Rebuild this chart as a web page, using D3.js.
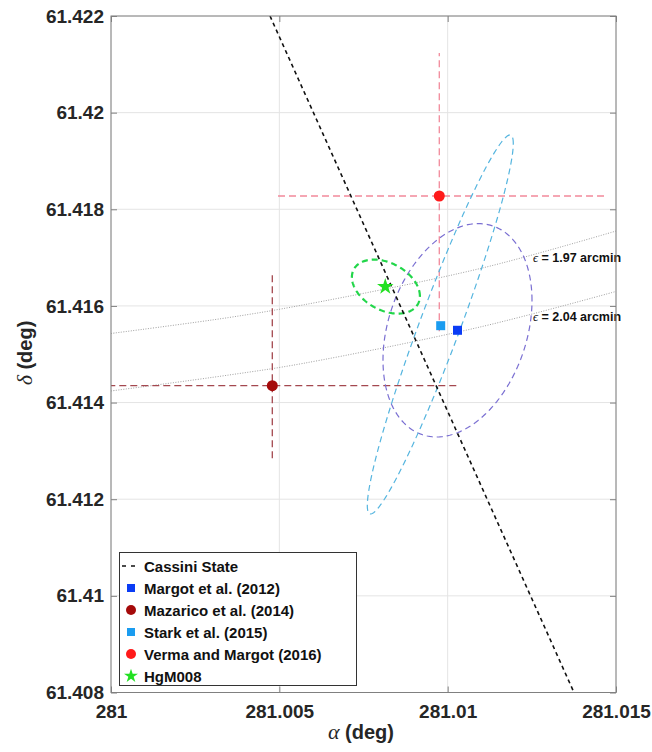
<!DOCTYPE html>
<html>
<head>
<meta charset="utf-8">
<script src="https://cdn.jsdelivr.net/npm/d3@7"></script>
<style>
  html, body { margin: 0; padding: 0; background: #fff; }
  svg { display: block; }
  .tick text { font-family: "Liberation Sans", Arial, Helvetica, sans-serif; font-weight: bold; font-size: 19px; fill: #262626; }
</style>
</head>
<body>
<div id="chart"></div>
<script>
// ---------------- DATA ----------------
const xTicks = [281, 281.005, 281.01, 281.015];
const xTickLabels = ["281", "281.005", "281.01", "281.015"];
const yTicks = [61.408, 61.41, 61.412, 61.414, 61.416, 61.418, 61.42, 61.422];
const yTickLabels = ["61.408", "61.41", "61.412", "61.414", "61.416", "61.418", "61.42", "61.422"];

// Cassini state line (two end points, ra / dec)
const cassiniRA = [281.004723, 281.013752];
const cassiniDec = [61.422, 61.408];

// constant obliquity curves
const epsRA = [281.000, 281.0035, 281.0057, 281.011, 281.015];
const eps197Dec = [61.41543, 61.41576, 61.41602, 61.41678, 61.41755];
const eps204Dec = [61.41424, 61.41457, 61.41481, 61.41557, 61.41630];
const epsLabels = ["1.97", "2.04"];

// solutions
const seriesNames = ["Margot et al. (2012)", "Mazarico et al. (2014)", "Stark et al. (2015)", "Verma and Margot (2016)", "HgM008"];
const seriesRA = [281.010292, 281.004791, 281.009793, 281.009751, 281.008147];
const seriesDec = [61.415496, 61.414349, 61.415591, 61.418275, 61.416398];

// error bars (Mazarico, Verma): [minus, plus]
const errRA = { "Mazarico et al. (2014)": [0.005525, 0.005525], "Verma and Margot (2016)": [0.00479, 0.00498] };
const errDec = { "Mazarico et al. (2014)": [0.0015, 0.00231], "Verma and Margot (2016)": [0.0028, 0.00296] };

// uncertainty ellipses: half-extent ra, half-extent dec, correlation
const ellName = ["Margot et al. (2012)", "Stark et al. (2015)", "HgM008"];
const ellRA = [281.010292, 281.009781, 281.008165];
const ellDec = [61.415496, 61.415616, 61.416400];
const ellSRA = [0.002213, 0.002168, 0.00101];
const ellSDec = [0.002208, 0.003922, 0.000559];
const ellRho = [0.28, 0.955, -0.35];

// ---------------- LAYOUT / STYLE ----------------
const W = 652, H = 752;
const L = 111, R = 616, T = 16, B = 692.5;
const colors = {
  "Margot et al. (2012)": "#0a3cf5",
  "Mazarico et al. (2014)": "#a50a0a",
  "Stark et al. (2015)": "#1a9cf0",
  "Verma and Margot (2016)": "#ff1a1a",
  "HgM008": "#22e022"
};
const errColors = { "Mazarico et al. (2014)": "#a4484f", "Verma and Margot (2016)": "#f2899a" };
const ellColors = { "Margot et al. (2012)": "#7a6fd2", "Stark et al. (2015)": "#55b5df", "HgM008": "#22d64a" };
const ellWidths = { "Margot et al. (2012)": 1.2, "Stark et al. (2015)": 1.2, "HgM008": 2.2 };
const markerType = {
  "Margot et al. (2012)": "square", "Mazarico et al. (2014)": "circle",
  "Stark et al. (2015)": "square", "Verma and Margot (2016)": "circle", "HgM008": "star"
};

const svg = d3.select("#chart").append("svg").attr("width", W).attr("height", H);
svg.append("rect").attr("width", W).attr("height", H).attr("fill", "#fff");

const x = d3.scaleLinear().domain([281, 281.015]).range([L, R]);
const y = d3.scaleLinear().domain([61.408, 61.422]).range([B, T]);

svg.append("clipPath").attr("id", "clip").append("rect")
  .attr("x", L).attr("y", T).attr("width", R - L).attr("height", B - T);

// grid
const grid = svg.append("g");
grid.selectAll(".gx").data(xTicks).join("line")
  .attr("x1", d => x(d)).attr("x2", d => x(d)).attr("y1", T).attr("y2", B)
  .attr("stroke", "#e4e4e4").attr("stroke-width", 1);
grid.selectAll(".gy").data(yTicks).join("line")
  .attr("y1", d => y(d)).attr("y2", d => y(d)).attr("x1", L).attr("x2", R)
  .attr("stroke", "#e4e4e4").attr("stroke-width", 1);

const plot = svg.append("g").attr("clip-path", "url(#clip)");

// epsilon curves
const epsLine = d3.line().x(d => x(d[0])).y(d => y(d[1])).curve(d3.curveCatmullRom);
[eps197Dec, eps204Dec].forEach(decs => {
  plot.append("path").datum(epsRA.map((r, i) => [r, decs[i]]))
    .attr("d", epsLine).attr("fill", "none").attr("stroke", "#a0a0a0")
    .attr("stroke-width", 1).attr("stroke-dasharray", "1,1.5");
});

// error bars
seriesNames.forEach((n, i) => {
  if (!errRA[n]) return;
  const g = plot.append("g").attr("stroke", errColors[n]).attr("stroke-width", 1.3)
    .attr("stroke-dasharray", "7,4").attr("fill", "none");
  g.append("line").attr("x1", x(seriesRA[i] - errRA[n][0])).attr("x2", x(seriesRA[i] + errRA[n][1]))
    .attr("y1", y(seriesDec[i])).attr("y2", y(seriesDec[i]));
  g.append("line").attr("x1", x(seriesRA[i])).attr("x2", x(seriesRA[i]))
    .attr("y1", y(seriesDec[i] - errDec[n][0])).attr("y2", y(seriesDec[i] + errDec[n][1]));
});

// ellipses
const ellLine = d3.line().x(d => x(d[0])).y(d => y(d[1]));
ellName.forEach((n, k) => {
  const pts = d3.range(0, 361, 2).map(a => {
    const t = a * Math.PI / 180;
    const r = ellRho[k];
    return [ellRA[k] + ellSRA[k] * Math.cos(t),
            ellDec[k] + ellSDec[k] * (r * Math.cos(t) + Math.sqrt(1 - r * r) * Math.sin(t))];
  });
  plot.append("path").datum(pts).attr("d", ellLine).attr("fill", "none")
    .attr("stroke", ellColors[n]).attr("stroke-width", ellWidths[n])
    .attr("stroke-dasharray", n === "HgM008" ? "6,4" : "6,4");
});

// Cassini state line
plot.append("path").datum(cassiniRA.map((r, i) => [r, cassiniDec[i]]))
  .attr("d", ellLine).attr("fill", "none").attr("stroke", "#111")
  .attr("stroke-width", 1.6).attr("stroke-dasharray", "4,3.5");

// markers
function drawMarker(g, type, cx, cy, color, s) {
  if (type === "square") {
    g.append("rect").attr("x", cx - s / 2).attr("y", cy - s / 2).attr("width", s).attr("height", s)
      .attr("fill", color);
  } else if (type === "circle") {
    g.append("circle").attr("cx", cx).attr("cy", cy).attr("r", s / 2).attr("fill", color);
  } else {
    g.append("path").attr("d", d3.symbol(d3.symbolStar, s * s * 0.5)())
      .attr("transform", `translate(${cx},${cy})`).attr("fill", color);
  }
}
const markerSize = { square: 9, circle: 11, star: 13 };
seriesNames.forEach((n, i) => {
  drawMarker(svg, markerType[n], x(seriesRA[i]), y(seriesDec[i]), colors[n], markerSize[markerType[n]]);
});

// epsilon labels
[eps197Dec, eps204Dec].forEach((decs, k) => {
  const yy = y(decs[3]) - 8;
  const t = svg.append("text").attr("x", 533).attr("y", k === 0 ? y(decs[3]) - 6 : y(decs[3]) - 6)
    .attr("font-family", "'Liberation Sans', Arial, sans-serif").attr("font-weight", "bold")
    .attr("font-size", 12.5).attr("fill", "#111");
  t.append("tspan").attr("font-family", "'Liberation Serif', 'DejaVu Serif', serif").attr("font-style", "italic")
    .attr("font-weight", "normal").text("ϵ");
  t.append("tspan").text(" = " + epsLabels[k] + " arcmin");
});

// axes (ticks inward on all sides)
const fmtX = (d) => xTickLabels[xTicks.indexOf(d)];
const fmtY = (d) => yTickLabels[yTicks.indexOf(d)];
const axB = svg.append("g").attr("transform", `translate(0,${B})`)
  .call(d3.axisBottom(x).tickValues(xTicks).tickFormat(fmtX).tickSizeInner(-6).tickSizeOuter(0).tickPadding(12));
const axL = svg.append("g").attr("transform", `translate(${L},0)`)
  .call(d3.axisLeft(y).tickValues(yTicks).tickFormat(fmtY).tickSizeInner(-6).tickSizeOuter(0).tickPadding(7));
const axT = svg.append("g").attr("transform", `translate(0,${T})`)
  .call(d3.axisTop(x).tickValues(xTicks).tickFormat("").tickSizeInner(-6).tickSizeOuter(0));
const axR = svg.append("g").attr("transform", `translate(${R},0)`)
  .call(d3.axisRight(y).tickValues(yTicks).tickFormat("").tickSizeInner(-6).tickSizeOuter(0));
[axB, axL, axT, axR].forEach(a => {
  a.select(".domain").remove();
  a.selectAll(".tick line").attr("stroke", "#808080");
});
svg.append("rect").attr("x", L).attr("y", T).attr("width", R - L).attr("height", B - T)
  .attr("fill", "none").attr("stroke", "#808080").attr("stroke-width", 1);

// axis titles
const xt = svg.append("text").attr("x", 361).attr("y", 739).attr("text-anchor", "middle")
  .attr("font-family", "'Liberation Sans', Arial, sans-serif").attr("font-weight", "bold")
  .attr("font-size", 20).attr("fill", "#262626");
xt.append("tspan").attr("font-family", "'Liberation Serif', 'DejaVu Serif', serif").attr("font-style", "italic")
  .attr("font-weight", "normal").attr("font-size", 22).text("α");
xt.append("tspan").text(" (deg)");

const yt = svg.append("text").attr("transform", `translate(32,353) rotate(-90)`).attr("text-anchor", "middle")
  .attr("font-family", "'Liberation Sans', Arial, sans-serif").attr("font-weight", "bold")
  .attr("font-size", 20).attr("fill", "#262626");
yt.append("tspan").attr("font-family", "'Liberation Serif', 'DejaVu Serif', serif").attr("font-style", "italic")
  .attr("font-weight", "normal").attr("font-size", 22).text("δ");
yt.append("tspan").text(" (deg)");

// legend
const lg = svg.append("g");
lg.append("rect").attr("x", 119.5).attr("y", 552.5).attr("width", 237).attr("height", 133)
  .attr("fill", "#fff").attr("stroke", "#333").attr("stroke-width", 1);
const legNames = ["Cassini State"].concat(seriesNames);
legNames.forEach((n, i) => {
  const cy = 566 + i * 22;
  if (i === 0) {
    lg.append("line").attr("x1", 122).attr("x2", 140).attr("y1", cy).attr("y2", cy)
      .attr("stroke", "#111").attr("stroke-width", 1.6).attr("stroke-dasharray", "4,5");
  } else {
    const t = markerType[n];
    drawMarker(lg, t, 131, cy, colors[n], t === "square" ? 8 : (t === "circle" ? 10 : 11));
  }
  lg.append("text").attr("x", 144).attr("y", cy + 5.5)
    .attr("font-family", "'Liberation Sans', Arial, sans-serif").attr("font-weight", "bold")
    .attr("font-size", 15).attr("fill", "#111").text(n);
});
</script>
</body>
</html>
